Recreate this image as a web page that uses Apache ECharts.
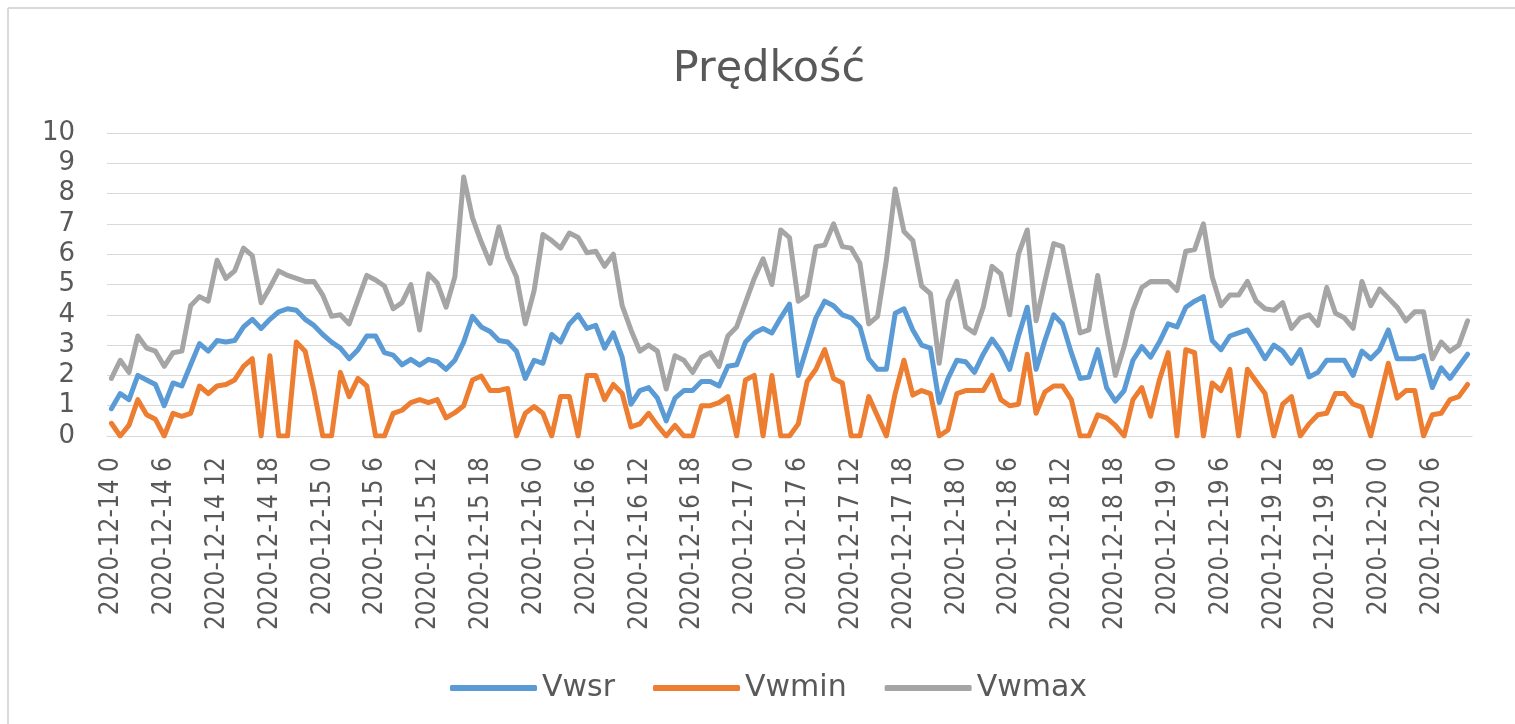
<!DOCTYPE html>
<html>
<head>
<meta charset="utf-8">
<script src="https://cdn.jsdelivr.net/npm/echarts@6/dist/echarts.min.js"></script>
<style>
html,body{margin:0;padding:0;background:#fff;}
#chart{width:1515px;height:724px;}
</style>
</head>
<body>
<div id="chart"></div>
<script>
// Categories: hourly timestamps 2020-12-14 0 ... 2020-12-20 10
const categories = [];
for (let d = 14; d <= 20; d++) {
  for (let h = 0; h < 24; h++) {
    if (categories.length < 155) categories.push('2020-12-' + d + ' ' + h);
  }
}

const yTicks = [0, 1, 2, 3, 4, 5, 6, 7, 8, 9, 10];

const vwsr = [
  0.9, 1.4, 1.2, 2.0, 1.85, 1.7, 1.0, 1.75, 1.65, 2.35,
  3.05, 2.8, 3.15, 3.1, 3.15, 3.6, 3.85, 3.55, 3.85, 4.1,
  4.2, 4.15, 3.85, 3.65, 3.35, 3.1, 2.9, 2.55, 2.85, 3.3,
  3.3, 2.75, 2.67, 2.35, 2.53, 2.34, 2.53, 2.45, 2.2, 2.5,
  3.1, 3.95, 3.6, 3.45, 3.15, 3.1, 2.8, 1.9, 2.5, 2.4,
  3.35, 3.1, 3.7, 4.0, 3.55, 3.65, 2.9, 3.4, 2.6, 1.05,
  1.5, 1.6, 1.25, 0.5, 1.25, 1.5, 1.5, 1.8, 1.8, 1.65,
  2.3, 2.35, 3.1, 3.4, 3.55, 3.4, 3.9, 4.35, 2.0, 2.95,
  3.9, 4.45, 4.3, 4.0, 3.9, 3.6, 2.55, 2.2, 2.2, 4.05,
  4.2, 3.5, 3.0, 2.9, 1.1, 1.9, 2.5, 2.45, 2.1, 2.7,
  3.2, 2.8, 2.2, 3.3, 4.25, 2.2, 3.15, 4.0, 3.7, 2.75,
  1.9, 1.95, 2.85, 1.6, 1.15, 1.5, 2.5, 2.95, 2.6, 3.1,
  3.7, 3.6, 4.25, 4.45, 4.6, 3.15, 2.85, 3.3, 3.4, 3.5,
  3.05, 2.55, 3.0, 2.8, 2.4, 2.85, 1.95, 2.1, 2.5, 2.5,
  2.5, 2.0, 2.8, 2.55, 2.85, 3.5, 2.55, 2.55, 2.55, 2.65,
  1.6, 2.25, 1.9, 2.3, 2.7
];

const vwmin = [
  0.42, 0, 0.36, 1.2, 0.7, 0.55, 0, 0.75, 0.65, 0.75,
  1.65, 1.4, 1.65, 1.7, 1.85, 2.3, 2.55, 0, 2.65, 0,
  0, 3.1, 2.8, 1.5, 0, 0, 2.1, 1.3, 1.9, 1.65,
  0, 0, 0.75, 0.85, 1.1, 1.2, 1.1, 1.2, 0.6, 0.77,
  1.0, 1.85, 1.98, 1.5, 1.5, 1.57, 0, 0.75, 0.97, 0.75,
  0, 1.3, 1.3, 0, 2.0, 2.0, 1.2, 1.7, 1.4, 0.3,
  0.4, 0.75, 0.35, 0, 0.35, 0, 0, 1.0, 1.0, 1.1,
  1.3, 0, 1.85, 2.0, 0, 2.0, 0, 0, 0.4, 1.8,
  2.2, 2.85, 1.9, 1.75, 0, 0, 1.3, 0.65, 0, 1.4,
  2.5, 1.35, 1.5, 1.4, 0, 0.2, 1.4, 1.5, 1.5, 1.5,
  2.0, 1.2, 1.0, 1.05, 2.7, 0.75, 1.45, 1.65, 1.65, 1.2,
  0, 0, 0.7, 0.6, 0.35, 0, 1.2, 1.6, 0.65, 1.85,
  2.75, 0, 2.85, 2.75, 0, 1.75, 1.5, 2.2, 0, 2.2,
  1.8, 1.4, 0, 1.05, 1.3, 0, 0.4, 0.7, 0.75, 1.4,
  1.4, 1.05, 0.95, 0, 1.2, 2.4, 1.25, 1.5, 1.5, 0,
  0.7, 0.75, 1.2, 1.3, 1.7
];

const vwmax = [
  1.9, 2.5, 2.1, 3.3, 2.9, 2.8, 2.3, 2.75, 2.8, 4.3,
  4.6, 4.45, 5.8, 5.2, 5.45, 6.2, 5.95, 4.4, 4.9, 5.45,
  5.3, 5.2, 5.1, 5.1, 4.65, 3.95, 4.0, 3.7, 4.5, 5.3,
  5.15, 4.95, 4.2, 4.4, 5.0, 3.5, 5.35, 5.05, 4.25, 5.25,
  8.55, 7.2, 6.4, 5.7, 6.9, 5.9, 5.25, 3.7, 4.8, 6.65,
  6.45, 6.2, 6.7, 6.55, 6.05, 6.1, 5.6, 6.0, 4.3, 3.5,
  2.8, 3.0, 2.8, 1.55, 2.65, 2.5, 2.1, 2.6, 2.75, 2.3,
  3.3, 3.6, 4.4, 5.2, 5.85, 5.0, 6.8, 6.55, 4.45, 4.65,
  6.25, 6.3, 7.0, 6.25, 6.2, 5.7, 3.7, 3.95, 5.8, 8.15,
  6.75, 6.45, 4.95, 4.7, 2.4, 4.45, 5.1, 3.6, 3.4, 4.25,
  5.6, 5.35, 4.0, 6.0, 6.8, 3.8, 5.1, 6.35, 6.25, 4.8,
  3.4, 3.5, 5.3, 3.6, 2.0, 2.95, 4.15, 4.9, 5.1, 5.1,
  5.1, 4.8, 6.1, 6.15, 7.0, 5.25, 4.3, 4.65, 4.65, 5.1,
  4.45, 4.2, 4.15, 4.4, 3.55, 3.9, 4.0, 3.65, 4.9, 4.05,
  3.9, 3.55, 5.1, 4.3, 4.85, 4.55, 4.25, 3.8, 4.1, 4.1,
  2.55, 3.1, 2.8, 3.0, 3.8
];

const seriesNames = ['Vwsr', 'Vwmin', 'Vwmax'];
const seriesColors = ['#5B9BD5', '#ED7D31', '#A5A5A5'];
const seriesData = [vwsr, vwmin, vwmax];

const textColor = '#595959';
const hFont = "'DejaVu Sans', sans-serif";
const vFont = "'DejaVu Sans Condensed', sans-serif";

const chart = echarts.init(document.getElementById('chart'), null, { renderer: 'canvas' });

chart.setOption({
  backgroundColor: '#ffffff',
  animation: false,
  title: {
    text: 'Prędkość',
    left: 764,
    textAlign: 'center',
    top: 43,
    textStyle: { fontFamily: hFont, fontSize: 43, fontWeight: 'normal', color: textColor }
  },
  legend: {
    data: seriesNames,
    left: 445,
    top: 668,
    icon: 'roundRect',
    itemWidth: 87,
    itemHeight: 6,
    itemGap: 38,
    textStyle: { fontFamily: hFont, fontSize: 30, color: textColor }
  },
  grid: {
    left: 107, right: 43, top: 133, bottom: 288,
    outerBoundsMode: 'none'
  },
  xAxis: {
    type: 'category',
    data: categories,
    boundaryGap: true,
    axisLine: { show: true, lineStyle: { color: '#d9d9d9', width: 1 } },
    axisTick: { show: false },
    axisLabel: {
      interval: 5,
      rotate: 90,
      margin: 21,
      fontFamily: vFont,
      fontSize: 26,
      color: textColor
    },
    splitLine: { show: false }
  },
  yAxis: {
    type: 'value',
    min: yTicks[0],
    max: yTicks[yTicks.length - 1],
    interval: 1,
    axisLine: { show: false },
    axisTick: { show: false },
    axisLabel: {
      margin: 32,
      fontFamily: hFont,
      fontSize: 26,
      color: textColor
    },
    splitLine: { show: true, lineStyle: { color: '#d9d9d9', width: 1 } }
  },
  series: seriesNames.map((name, k) => ({
    name: name,
    type: 'line',
    data: seriesData[k],
    showSymbol: false,
    symbol: 'none',
    smooth: false,
    color: seriesColors[k],
    lineStyle: { color: seriesColors[k], width: 5, cap: 'round', join: 'round' },
    emphasis: { disabled: true }
  })),
  graphic: [
    { type: 'line', shape: { x1: 8, y1: 8, x2: 8, y2: 724 }, style: { stroke: '#d9d9d9', lineWidth: 2 }, silent: true },
    { type: 'line', shape: { x1: 8, y1: 8, x2: 1515, y2: 8 }, style: { stroke: '#d9d9d9', lineWidth: 2 }, silent: true }
  ]
});
</script>
</body>
</html>
